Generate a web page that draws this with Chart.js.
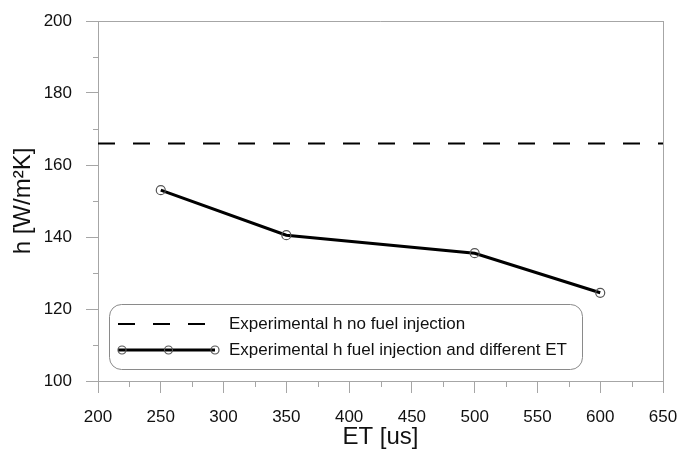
<!DOCTYPE html>
<html>
<head>
<meta charset="utf-8">
<script src="https://cdn.jsdelivr.net/npm/chart.js@4/dist/chart.umd.min.js"></script>
<style>
html,body{margin:0;padding:0;background:#fff;}
#wrap{width:680px;height:453px;position:relative;}
</style>
</head>
<body>
<div id="wrap"><canvas id="c" width="680" height="453"></canvas></div>
<script>
// ---- data ----
const etValues = [250, 350, 500, 600];
const hFuelInjection = [153, 140.5, 135.5, 124.5];
const hNoFuelLevel = 166;
const noFuelSpan = [200, 650];
const xTicksMajor = [200, 250, 300, 350, 400, 450, 500, 550, 600, 650];
const yTicksMajor = [100, 120, 140, 160, 180, 200];
const xTicksMinor = [225, 275, 325, 375, 425, 475, 525, 575, 625];
const yTicksMinor = [110, 130, 150, 170, 190];
const legendLabels = ['Experimental h no fuel injection', 'Experimental h fuel injection and different ET'];
const xTitle = 'ET [us]';
const yTitle = 'h [W/m\u00B2K]';

const FONT = 'Arial, "Liberation Sans", Helvetica, sans-serif';
const FRAME = '#a6a6a6';

const frameAndMinor = {
  id: 'frameAndMinor',
  afterDraw(chart) {
    const {ctx, chartArea: a, scales: {x, y}} = chart;
    ctx.save();
    ctx.strokeStyle = FRAME;
    ctx.lineWidth = 1;
    ctx.beginPath();
    ctx.moveTo(a.left, a.top + 0.5); ctx.lineTo(a.right + 0.5, a.top + 0.5);
    ctx.moveTo(a.right + 0.5, a.top); ctx.lineTo(a.right + 0.5, a.bottom);
    xTicksMinor.forEach(v => {
      const px = Math.round(x.getPixelForValue(v)) + 0.5;
      ctx.moveTo(px, a.bottom); ctx.lineTo(px, a.bottom + 6);
    });
    yTicksMinor.forEach(v => {
      const py = Math.round(y.getPixelForValue(v)) + 0.5;
      ctx.moveTo(a.left, py); ctx.lineTo(a.left - 5, py);
    });
    ctx.stroke();
    ctx.restore();
  }
};

const boxLegend = {
  id: 'boxLegend',
  afterDraw(chart) {
    const {ctx, chartArea: a} = chart;
    const bx = a.left + 11, bw = 473, bh = 65, by = a.bottom - 12 - bh, r = 12;
    ctx.save();
    ctx.strokeStyle = '#8a8a8a';
    ctx.lineWidth = 1;
    ctx.fillStyle = '#ffffff';
    ctx.beginPath();
    ctx.roundRect(bx + 0.5, by + 0.5, bw, bh, r);
    ctx.fill();
    ctx.stroke();
    const x0 = bx + 13, x1 = bx + 106, tx = bx + 120;
    const rows = [by + 20, by + 46];
    chart.data.datasets.forEach((ds, i) => {
      const yy = rows[i];
      ctx.save();
      ctx.strokeStyle = ds.borderColor;
      ctx.lineWidth = ds.borderWidth;
      ctx.setLineDash(ds.borderDash || []);
      ctx.beginPath();
      ctx.moveTo(x0 - 4, yy); ctx.lineTo(x1, yy);
      ctx.stroke();
      ctx.setLineDash([]);
      if (ds.pointRadius > 0) {
        ctx.strokeStyle = ds.pointBorderColor;
        ctx.lineWidth = ds.pointBorderWidth;
        [x0, (x0 + x1) / 2, x1].forEach(px => {
          ctx.beginPath();
          ctx.arc(px, yy, 4, 0, Math.PI * 2);
          ctx.stroke();
        });
      }
      ctx.restore();
      ctx.fillStyle = '#111';
      ctx.font = '17px ' + FONT;
      ctx.textBaseline = 'middle';
      ctx.textAlign = 'left';
      ctx.fillText(ds.label, tx, yy);
    });
    ctx.restore();
  }
};

new Chart(document.getElementById('c'), {
  type: 'line',
  data: {
    datasets: [
      {
        label: legendLabels[0],
        data: noFuelSpan.map(v => ({x: v, y: hNoFuelLevel})),
        borderColor: '#000',
        borderWidth: 2,
        borderDash: [17, 18],
        pointRadius: 0,
        fill: false
      },
      {
        label: legendLabels[1],
        data: etValues.map((v, i) => ({x: v, y: hFuelInjection[i]})),
        borderColor: '#000',
        borderWidth: 3,
        pointRadius: 4.5,
        pointBorderColor: '#555',
        pointBackgroundColor: 'rgba(0,0,0,0)',
        pointBorderWidth: 1.2,
        tension: 0,
        fill: false
      }
    ]
  },
  options: {
    responsive: false,
    animation: false,
    devicePixelRatio: 1,
    layout: {padding: {top: 21, right: 17, left: 0, bottom: 0}},
    plugins: {legend: {display: false}, tooltip: {enabled: false}},
    scales: {
      x: {
        type: 'linear',
        min: 200, max: 650,
        afterFit: s => { s.height = 72; s.paddingLeft = 0; s.paddingRight = 0; },
        afterBuildTicks: s => { s.ticks = xTicksMajor.map(v => ({value: v})); },
        ticks: {color: '#111', font: {family: FONT, size: 17}, padding: 14, maxRotation: 0},
        grid: {drawOnChartArea: false, drawTicks: true, tickLength: 12, tickColor: FRAME},
        border: {color: FRAME, width: 1},
        title: {display: true, text: xTitle, color: '#111', font: {family: FONT, size: 24}, padding: {top: 0, bottom: 1}}
      },
      y: {
        min: 100, max: 200,
        afterFit: s => { s.width = 98; s.paddingTop = 0; s.paddingBottom = 0; },
        afterBuildTicks: s => { s.ticks = yTicksMajor.map(v => ({value: v})); },
        ticks: {color: '#111', font: {family: FONT, size: 17}, padding: 14},
        grid: {drawOnChartArea: false, drawTicks: true, tickLength: 12, tickColor: FRAME},
        border: {color: FRAME, width: 1},
        title: {display: true, text: yTitle, color: '#111', font: {family: FONT, size: 24}, padding: {top: 9, bottom: 0}}
      }
    }
  },
  plugins: [frameAndMinor, boxLegend]
});
</script>
</body>
</html>
